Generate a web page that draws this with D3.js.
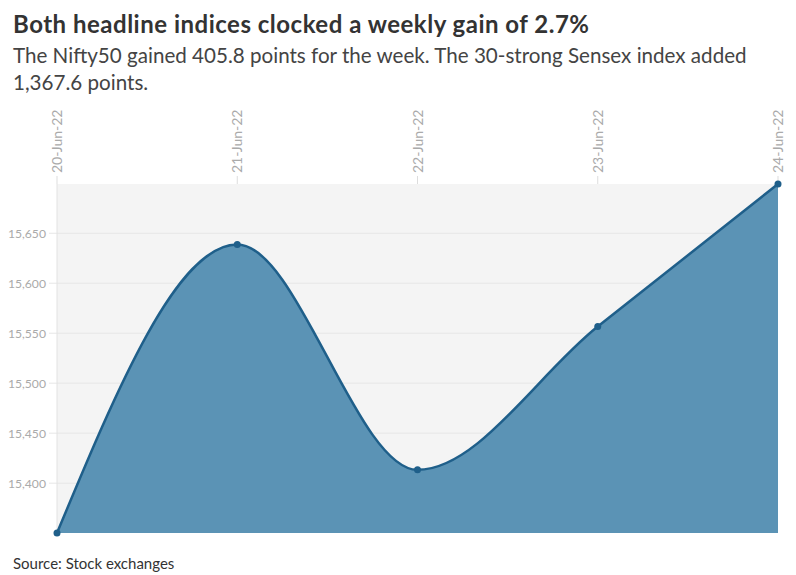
<!DOCTYPE html>
<html><head><meta charset="utf-8">
<script src="https://cdn.jsdelivr.net/npm/d3@7"></script>
<style>
body{margin:0;background:#fff;font-family:"Source Sans Pro","Lato","Noto Sans",sans-serif;}
</style></head><body>
<svg id="c" width="796" height="575"></svg>
<script>
const dates = ["20-Jun-22","21-Jun-22","22-Jun-22","23-Jun-22","24-Jun-22"];
const nifty = [15350.15, 15638.8, 15413.3, 15556.65, 15699.25];
const yTicks = [15400, 15450, 15500, 15550, 15600, 15650];

const svg = d3.select("#c");
const L = 57, R = 778, T = 184, B = 533;
const x = d3.scalePoint().domain(dates).range([L, R]);
const y = d3.scaleLinear().domain([d3.min(nifty), d3.max(nifty)]).range([B, T]);
const data = dates.map((d,i)=>({d, v:nifty[i]}));

svg.append("text").attr("x",13).attr("y",33).attr("font-size",24).attr("font-weight",700).attr("fill","#333")
  .attr("letter-spacing",0.5)
  .text("Both headline indices clocked a weekly gain of 2.7%");
svg.append("text").attr("x",13).attr("y",63).attr("font-size",20.6).attr("fill","#444")
  .text("The Nifty50 gained 405.8 points for the week. The 30-strong Sensex index added");
svg.append("text").attr("x",13).attr("y",90).attr("font-size",20.6).attr("fill","#444")
  .text("1,367.6 points.");

svg.append("rect").attr("x",L).attr("y",T).attr("width",R-L).attr("height",B-T).attr("fill","#f4f4f4");

const g = svg.append("g");
g.selectAll(".grid").data(yTicks).join("line")
  .attr("x1",L-8).attr("x2",R).attr("y1",d=>y(d)).attr("y2",d=>y(d))
  .attr("stroke","#e6e6e6").attr("stroke-width",1);
g.append("line").attr("x1",L).attr("x2",L).attr("y1",T).attr("y2",B).attr("stroke","#e2e2e2");
g.selectAll(".ylab").data(yTicks).join("text")
  .attr("x",L-11).attr("y",d=>y(d)+4.5).attr("text-anchor","end").attr("font-size",12.2).attr("fill","#aaa")
  .text(d=>d3.format(",")(d));

g.selectAll(".xt").data(dates).join("line")
  .attr("x1",d=>x(d)).attr("x2",d=>x(d)).attr("y1",T-8).attr("y2",T).attr("stroke","#ddd");
g.selectAll(".xlab").data(dates).join("text")
  .attr("transform",d=>`translate(${x(d)+5},${T-11}) rotate(-90)`)
  .attr("text-anchor","start").attr("font-size",14).attr("fill","#aaa").text(d=>d);

const curve = d3.curveMonotoneX;
svg.append("path").datum(data)
  .attr("d", d3.area().x(d=>x(d.d)).y0(B).y1(d=>y(d.v)).curve(curve))
  .attr("fill","#5b93b5");
svg.append("path").datum(data)
  .attr("d", d3.line().x(d=>x(d.d)).y(d=>y(d.v)).curve(curve))
  .attr("fill","none").attr("stroke","#1f5f8a").attr("stroke-width",2.5);
svg.selectAll(".pt").data(data).join("circle")
  .attr("cx",d=>x(d.d)).attr("cy",d=>y(d.v)).attr("r",3.5).attr("fill","#1f5f8a");

svg.append("text").attr("x",13).attr("y",569).attr("font-size",15).attr("fill","#333").text("Source: Stock exchanges");
</script></body></html>
